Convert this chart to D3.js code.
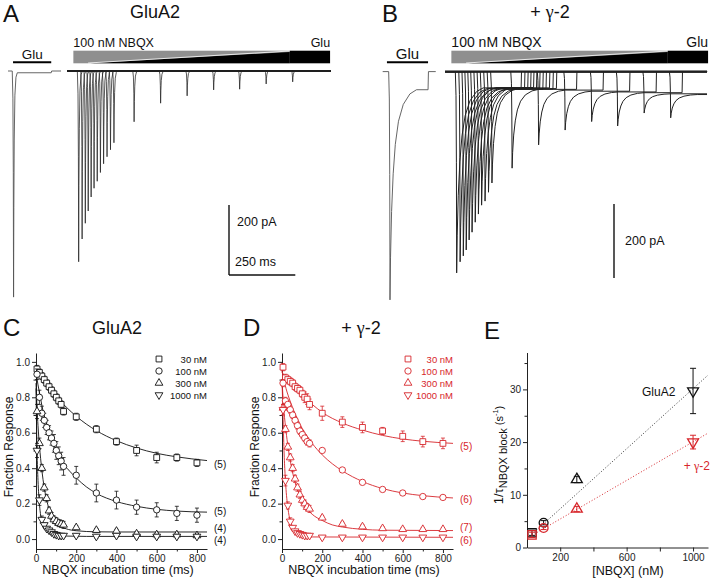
<!DOCTYPE html>
<html>
<head>
<meta charset="utf-8">
<script src="https://cdn.jsdelivr.net/npm/d3@7"></script>
<style>
body { margin: 0; background: #fff; }
svg { display: block; font-family: "Liberation Sans", Arial, sans-serif; }
</style>
</head>
<body>
<svg id="fig" width="711" height="580"></svg>
<script>
// ---------------- data ----------------
// A / B : sweep onsets (ms after trace start) and peak inward current (pA)
const onsets = [44, 57, 69, 80, 91, 102, 114, 126, 138, 151, 164, 177, 253, 353, 453, 553, 651, 751, 851]
const peaksA = [545, 480, 435, 400, 360, 335, 315, 290, 265, 245, 225, 205, 145, 92, 71, 54, 52, 37, 31]
const peaksB = [544, 514, 498, 482, 455, 434, 407, 385, 361, 350, 326, 301, 261, 198, 158, 135, 147, 112, 125]
const steadyB = [44, 46, 45, 47, 43, 46, 45, 48, 46, 44, 47, 46, 48, 50, 53, 55, 57, 60, 62]
// control glutamate responses (onset ms, peak pA, steady pA, glu off ms)
const ctrlA = [21, 646, 5, 163]
const ctrlB = [27.5, 617, 49, 171]
const gluDur = 243
// waveform templates [ms from peak, fraction of peak]
const riseShape = [[-5, 0], [-2.5, 0.12], [-1, 0.45], [0, 1]]
const decayA = [[1, 0.6], [2.5, 0.3], [5, 0.1], [9, 0.02], [14, 0]]
const decayB = [[2, 0.8], [6, 0.58], [12, 0.4], [20, 0.26], [32, 0.15], [50, 0.07], [75, 0.02], [100, 0]]
// NBQX wedge: start, ramp start, full glu, end (ms)
const wedgeT = [24, 87, 840, 992]

// C / D : fraction response vs NBQX incubation time
const concLabels = ['30 nM', '100 nM', '300 nM', '1000 nM']
const tInc = [5, 17, 29, 41, 53, 65, 77, 89, 101, 113, 125, 137, 200, 300, 400, 500, 600, 700, 800]
const c30 = [0.96, 0.94, 0.92, 0.90, 0.88, 0.86, 0.84, 0.82, 0.80, 0.78, 0.76, 0.72, 0.69, 0.62, 0.55, 0.50, 0.46, 0.46, 0.43]
const c100 = [0.93, 0.80, 0.71, 0.67, 0.63, 0.60, 0.57, 0.54, 0.50, 0.47, 0.44, 0.41, 0.36, 0.26, 0.22, 0.18, 0.165, 0.145, 0.135]
const c300 = [0.72, 0.54, 0.40, 0.29, 0.23, 0.16, 0.13, 0.11, 0.10, 0.09, 0.085, 0.08, 0.065, 0.05, 0.045, 0.03, 0.025, 0.025, 0.02]
const c1000 = [0.50, 0.22, 0.11, 0.08, 0.06, 0.05, 0.04, 0.03, 0.025, 0.02, 0.02, 0.02, 0.02, 0.015, 0.02, 0.015, 0.015, 0.015, 0.015]
const c30e = [0.02, 0.02, 0.02, 0.02, 0.02, 0.02, 0.02, 0.02, 0.02, 0.02, 0.02, 0.02, 0.02, 0.02, 0.02, 0.03, 0.03, 0.02, 0.02]
const c100e = [0.03, 0.04, 0.04, 0.04, 0.04, 0.04, 0.04, 0.05, 0.05, 0.05, 0.05, 0.05, 0.05, 0.05, 0.05, 0.04, 0.04, 0.04, 0.04]
const c300e = [0.04, 0.03, 0.02, 0.02, 0.02, 0.02, 0.02, 0.02, 0.02, 0.02, 0.02, 0.02, 0.01, 0.01, 0.01, 0.01, 0.01, 0.01, 0.01]
const c1000e = [0.04, 0.03, 0.02, 0.01, 0.01, 0.01, 0.01, 0.01, 0.01, 0.01, 0.01, 0.01, 0.01, 0.01, 0.01, 0.01, 0.01, 0.01, 0.01]
const d30 = [0.97, 0.91, 0.90, 0.89, 0.88, 0.86, 0.85, 0.84, 0.82, 0.80, 0.79, 0.76, 0.71, 0.66, 0.63, 0.61, 0.58, 0.55, 0.54]
const d100 = [0.88, 0.78, 0.76, 0.73, 0.70, 0.67, 0.64, 0.61, 0.59, 0.57, 0.55, 0.54, 0.50, 0.39, 0.32, 0.28, 0.26, 0.24, 0.235]
const d300 = [0.74, 0.62, 0.52, 0.46, 0.40, 0.34, 0.29, 0.25, 0.22, 0.20, 0.18, 0.17, 0.12, 0.085, 0.07, 0.06, 0.055, 0.055, 0.055]
const d1000 = [0.73, 0.33, 0.19, 0.10, 0.065, 0.045, 0.035, 0.03, 0.025, 0.02, 0.02, 0.02, 0.01, 0.01, 0.01, 0.01, 0.01, 0.01, 0.01]
const d30e = [0.02, 0.02, 0.02, 0.02, 0.02, 0.02, 0.02, 0.02, 0.02, 0.03, 0.03, 0.03, 0.04, 0.03, 0.03, 0.02, 0.03, 0.03, 0.03]
const d100e = [0.02, 0.02, 0.02, 0.02, 0.02, 0.02, 0.02, 0.02, 0.02, 0.02, 0.02, 0.02, 0.01, 0.01, 0.01, 0.01, 0.01, 0.01, 0.01]
const d300e = [0.02, 0.02, 0.02, 0.02, 0.02, 0.02, 0.02, 0.02, 0.02, 0.02, 0.02, 0.02, 0.01, 0.01, 0.01, 0.01, 0.01, 0.01, 0.01]
const d1000e = [0.03, 0.03, 0.02, 0.02, 0.01, 0.01, 0.01, 0.01, 0.01, 0.01, 0.01, 0.01, 0.01, 0.01, 0.01, 0.01, 0.01, 0.01, 0.01]
// exponential fit curves [ms, fraction]
const fitC30 = [[0, 0.96], [50, 0.877], [100, 0.805], [150, 0.745], [200, 0.693], [250, 0.649], [300, 0.612], [400, 0.555], [500, 0.514], [600, 0.484], [700, 0.464], [850, 0.443]]
const fitC100 = [[0, 0.94], [10, 0.87], [20, 0.81], [30, 0.75], [40, 0.70], [55, 0.64], [70, 0.59], [85, 0.54], [100, 0.50], [120, 0.455], [140, 0.42], [170, 0.38], [200, 0.345], [250, 0.295], [300, 0.258], [400, 0.212], [500, 0.185], [600, 0.168], [700, 0.158], [850, 0.152]]
const fitC300 = [[0, 0.88], [5, 0.74], [10, 0.64], [17, 0.53], [29, 0.39], [41, 0.29], [53, 0.22], [65, 0.17], [80, 0.13], [100, 0.095], [125, 0.07], [150, 0.058], [200, 0.047], [300, 0.041], [400, 0.04], [850, 0.04]]
const fitC1000 = [[0, 0.85], [5, 0.50], [10, 0.33], [17, 0.20], [25, 0.12], [35, 0.075], [50, 0.045], [70, 0.03], [100, 0.022], [150, 0.017], [250, 0.015], [850, 0.015]]
const fitD30 = [[0, 0.94], [50, 0.87], [100, 0.81], [150, 0.76], [200, 0.715], [300, 0.655], [400, 0.615], [500, 0.585], [600, 0.565], [700, 0.552], [850, 0.54]]
const fitD100 = [[0, 0.95], [20, 0.85], [40, 0.78], [60, 0.72], [80, 0.67], [100, 0.625], [125, 0.58], [150, 0.54], [200, 0.475], [250, 0.425], [300, 0.385], [400, 0.325], [500, 0.285], [600, 0.26], [700, 0.245], [850, 0.232]]
const fitD300 = [[0, 0.90], [5, 0.80], [10, 0.72], [20, 0.61], [30, 0.52], [40, 0.45], [50, 0.39], [60, 0.34], [80, 0.27], [100, 0.215], [125, 0.17], [150, 0.14], [200, 0.105], [250, 0.08], [300, 0.068], [400, 0.055], [500, 0.05], [850, 0.048]]
const fitD1000 = [[0, 0.90], [5, 0.70], [10, 0.50], [15, 0.37], [20, 0.28], [30, 0.17], [40, 0.105], [50, 0.068], [60, 0.045], [80, 0.025], [100, 0.017], [150, 0.012], [850, 0.01]]
const nCells = { C: ['(5)', '(5)', '(4)', '(4)'], D: ['(5)', '(6)', '(7)', '(6)'] }

// E : 1/tau vs [NBQX]
const concE = [30, 100, 300, 1000]
const rateGluA2 = [2.8, 4.7, 12.9, 29.7]
const rateGluA2e = [0.5, 0.4, 0.6, 4.3]
const rateG2 = [2.4, 3.7, 7.3, 20.0]
const rateG2e = [0.5, 0.3, 0.5, 1.3]
const lineGluA2 = [[30, 2.5], [1090, 32.7]]
const lineG2 = [[30, 2.3], [1090, 21.7]]

const RED = '#d7262b'
const symbols = ['square', 'circle', 'up', 'down']

// ---------------- drawing ----------------
var svg = d3.select('#fig')

function label(x, y, s, size, opt) {
    opt = opt || {}
    return svg.append('text')
        .attr('x', x).attr('y', y)
        .attr('font-size', size)
        .attr('text-anchor', opt.anchor || 'start')
        .attr('fill', opt.fill || '#111')
        .text(s)
}
function gammaLabel(x, y, size, fill, anchor) {
    var t = svg.append('text').attr('x', x).attr('y', y).attr('font-size', size)
        .attr('text-anchor', anchor || 'middle').attr('fill', fill || '#111')
    t.append('tspan').text('+ ')
    t.append('tspan').attr('font-family', 'Liberation Serif, serif').text('\u03b3')
    t.append('tspan').text('-2')
    return t
}

// panel letters and titles
label(3, 22, 'A', 24)
label(155, 18, 'GluA2', 18, { anchor: 'middle' })
label(382, 22, 'B', 24)
gammaLabel(550, 18, 18)
label(3, 336, 'C', 24)
label(117, 334, 'GluA2', 18, { anchor: 'middle' })
label(243, 336, 'D', 24)
gammaLabel(361, 334, 18)
label(484, 339, 'E', 24)

// ---- traces ----
function sweep(t0, peak, ss, decay, tOff, tEnd) {
    var pts = [[0, 0]]
    riseShape.forEach(function (d) { pts.push([t0 + d[0], d[1] * peak]) })
    decay.forEach(function (d) { pts.push([t0 + d[0], ss + d[1] * (peak - ss)]) })
    if (tOff < tEnd) {
        pts.push([tOff, ss], [tOff + 1.5, 0], [tEnd, 0])
    } else {
        pts.push([tEnd, ss])
    }
    return pts
}

function tracePanel(cfg) {
    var x = d3.scaleLinear().domain([0, 1000]).range([cfg.x0, cfg.x0 + 265.2])
    var y = d3.scaleLinear().domain([0, 700]).range([cfg.base, cfg.base + 700 * cfg.pxPerPA])
    var xc = d3.scaleLinear().domain([0, 200]).range([cfg.cx0, cfg.cx0 + 53.04])
    var g = svg.append('g')
    var line = d3.line().x(function (d) { return x(d[0]) }).y(function (d) { return y(d[1]) })
    var lineC = d3.line().x(function (d) { return xc(d[0]) }).y(function (d) { return y(d[1]) })

    // NBQX wedge
    var wt = wedgeT, top = 50.7, bot = 63.3
    g.append('rect').attr('x', x(wt[0])).attr('y', top).attr('width', x(wt[2]) - x(wt[0])).attr('height', bot - top).attr('fill', '#8f8f8f')
    g.append('path').attr('d', `M${x(wt[1])},${bot}L${x(wt[2])},${top + 1.2}L${x(wt[2])},${bot}Z`).attr('fill', '#000')
    g.append('line').attr('x1', x(wt[1]) - 2).attr('y1', bot - 0.3).attr('x2', x(wt[2])).attr('y2', top + 0.3)
        .attr('stroke', '#fff').attr('stroke-width', 0.8)
    g.append('rect').attr('x', x(wt[2])).attr('y', top).attr('width', x(wt[3]) - x(wt[2])).attr('height', bot - top).attr('fill', '#000')
    g.append('text').attr('x', x(wt[0])).attr('y', 47).attr('font-size', cfg.fs).attr('fill', '#111').text('100 nM NBQX')
    g.append('text').attr('x', x(wt[3])).attr('y', 47).attr('font-size', cfg.fs).attr('text-anchor', 'end').attr('fill', '#111').text('Glu')

    // control glu bar
    var cc = cfg.ctrl
    g.append('line').attr('x1', xc(cfg.gluBar[0])).attr('x2', xc(cfg.gluBar[1])).attr('y1', 62.3).attr('y2', 62.3)
        .attr('stroke', '#000').attr('stroke-width', 2)
    g.append('text').attr('x', (xc(cfg.gluBar[0]) + xc(cfg.gluBar[1])) / 2).attr('y', 59).attr('text-anchor', 'middle')
        .attr('font-size', cfg.fs + 1).attr('fill', '#111').text('Glu')
    g.append('path').attr('d', lineC(sweep(cc[0], cc[1], cc[2], cfg.decay, cc[3], 200)))
        .attr('fill', 'none').attr('stroke', '#555').attr('stroke-width', 0.9)

    // overlapped baselines
    g.append('line').attr('x1', x(0)).attr('x2', x(cfg.tEnd)).attr('y1', y(0)).attr('y2', y(0))
        .attr('stroke', '#111').attr('stroke-width', 2)
    g.selectAll('path.sw')
        .data(onsets)
        .join('path')
        .attr('class', 'sw')
        .attr('d', function (t, i) {
            return line(sweep(t, cfg.peaks[i], cfg.steady ? cfg.steady[i] : 0, cfg.decay, t + gluDur, cfg.tEnd))
        })
        .attr('fill', 'none').attr('stroke', '#222').attr('stroke-width', cfg.sw)

    // scale bar
    var sb = cfg.bar
    g.append('line').attr('x1', sb[0]).attr('x2', sb[0]).attr('y1', sb[1]).attr('y2', sb[1] - (y(200) - y(0)))
        .attr('stroke', '#111').attr('stroke-width', 1.4)
    if (cfg.hbar) {
        g.append('line').attr('x1', sb[0]).attr('x2', sb[0] + x(250) - x(0)).attr('y1', sb[1]).attr('y2', sb[1])
            .attr('stroke', '#111').attr('stroke-width', 1.4)
        g.append('text').attr('x', sb[0] + 6).attr('y', sb[1] - 9).attr('font-size', 12.5).attr('fill', '#111').text('250 ms')
        g.append('text').attr('x', sb[0] + 8).attr('y', sb[1] - 49).attr('font-size', 12.5).attr('fill', '#111').text('200 pA')
    } else {
        g.append('text').attr('x', sb[0] + 11).attr('y', sb[1] - 33).attr('font-size', 12.5).attr('fill', '#111').text('200 pA')
    }
}

tracePanel({ x0: 67, cx0: 8, base: 71, pxPerPA: 0.35, peaks: peaksA, decay: decayA, tEnd: 995, sw: 0.75,
    ctrl: ctrlA, gluBar: [19, 163], bar: [229, 275], hbar: true, fs: 12.5 })
tracePanel({ x0: 445, cx0: 382.7, base: 71.6, pxPerPA: 0.37, peaks: peaksB, steady: steadyB, decay: decayB, tEnd: 988, sw: 1,
    ctrl: ctrlB, gluBar: [16, 171], bar: [614, 278], hbar: false, fs: 14 })

// ---- C / D ----
function markerPath(kind, size) {
    var t = { square: d3.symbolSquare, circle: d3.symbolCircle, up: d3.symbolTriangle, down: d3.symbolTriangle }[kind]
    return d3.symbol().type(t).size(size)()
}
function markerTransform(kind, x, y) {
    return `translate(${x},${y})` + (kind === 'down' ? ' rotate(180)' : '')
}
var msize = { square: 34, circle: 32, up: 26, down: 26 }

function decayPanel(cfg) {
    var x = d3.scaleLinear().domain([0, 850]).range([cfg.x0, cfg.x0 + 171])
    var y = d3.scaleLinear().domain([-0.056, 1.05]).range([549, 353])
    var g = svg.append('g').attr('color', '#111')
    var col = cfg.color

    g.append('g').attr('transform', 'translate(0,549)')
        .call(d3.axisBottom(x).tickValues([0, 200, 400, 600, 800]).tickSize(4).tickSizeOuter(0).tickPadding(2))
    g.append('g').attr('transform', 'translate(0,549)')
        .call(d3.axisBottom(x).tickValues([100, 300, 500, 700]).tickSize(2.5).tickFormat(''))
        .select('.domain').remove()
    g.append('g').attr('transform', `translate(${cfg.x0},0)`)
        .call(d3.axisLeft(y).tickValues([0, 0.2, 0.4, 0.6, 0.8, 1.0]).tickFormat(d3.format('.1f')).tickSize(4).tickSizeOuter(0).tickPadding(2))
    g.append('g').attr('transform', `translate(${cfg.x0},0)`)
        .call(d3.axisLeft(y).tickValues([0.1, 0.3, 0.5, 0.7, 0.9]).tickSize(2.5).tickFormat(''))
        .select('.domain').remove()
    g.selectAll('.tick text').attr('font-size', 10).attr('font-family', 'Liberation Sans, Arial, sans-serif').attr('fill', '#222')
    g.selectAll('.domain, .tick line').attr('stroke', '#222')

    label(cfg.x0 + 82, 574, 'NBQX incubation time (ms)', 12.5, { anchor: 'middle' })
    svg.append('text').attr('transform', `translate(${cfg.x0 - 23},447) rotate(-90)`)
        .attr('text-anchor', 'middle').attr('font-size', 12).attr('fill', '#111').text('Fraction Response')

    var line = d3.line().x(function (d) { return x(d[0]) }).y(function (d) { return y(d[1]) }).curve(d3.curveMonotoneX)
    g.selectAll('path.fit').data(cfg.fits).join('path').attr('class', 'fit')
        .attr('d', line).attr('fill', 'none').attr('stroke', col).attr('stroke-width', 0.9)

    cfg.series.forEach(function (vals, s) {
        var err = cfg.errs[s]
        var pts = tInc.map(function (t, i) { return { t: t, v: vals[i], e: err[i] } })
        var sg = g.append('g')
        sg.selectAll('path.eb').data(pts).join('path').attr('class', 'eb')
            .attr('d', function (d) {
                var xx = x(d.t), y1 = y(d.v + d.e), y2 = y(d.v - d.e)
                return `M${xx},${y1}V${y2}M${xx - 2},${y1}H${xx + 2}M${xx - 2},${y2}H${xx + 2}`
            })
            .attr('stroke', col).attr('stroke-width', 0.8).attr('fill', 'none')
        sg.selectAll('path.mk').data(pts).join('path').attr('class', 'mk')
            .attr('d', markerPath(symbols[s], msize[symbols[s]]))
            .attr('transform', function (d) { return markerTransform(symbols[s], x(d.t), y(d.v)) })
            .attr('fill', '#fff').attr('stroke', col).attr('stroke-width', 0.9)
    })

    // legend
    concLabels.forEach(function (c, i) {
        var yy = 359 + i * 12
        g.append('path').attr('d', markerPath(symbols[i], msize[symbols[i]]))
            .attr('transform', markerTransform(symbols[i], cfg.legX, yy))
            .attr('fill', '#fff').attr('stroke', col).attr('stroke-width', 0.9)
        label(cfg.x0 + 171, yy + 3.5, c, 9.5, { anchor: 'end', fill: col })
    })
    cfg.nLabels.forEach(function (n, i) {
        label(cfg.x0 + 178, cfg.nY[i] + 3.5, n, 10, { fill: col })
    })
}

decayPanel({ x0: 36, color: '#111', series: [c30, c100, c300, c1000], errs: [c30e, c100e, c300e, c1000e],
    fits: [fitC30, fitC100, fitC300, fitC1000], legX: 159, nLabels: nCells.C, nY: [464, 511.5, 528, 540] })
decayPanel({ x0: 282, color: RED, series: [d30, d100, d300, d1000], errs: [d30e, d100e, d300e, d1000e],
    fits: [fitD30, fitD100, fitD300, fitD1000], legX: 408, nLabels: nCells.D, nY: [446, 499, 527, 540.5] })

// ---- E ----
;(function () {
    var x = d3.scaleLinear().domain([0, 1090]).range([527, 708])
    var y = d3.scaleLinear().domain([0, 37]).range([547.5, 352.5])
    var g = svg.append('g').attr('color', '#111')
    g.append('g').attr('transform', 'translate(0,547.5)')
        .call(d3.axisBottom(x).tickValues([200, 400, 600, 800, 1000]).tickSize(4).tickSizeOuter(0).tickPadding(2)
            .tickFormat(function (d) { return d === 400 || d === 800 ? '' : d }))
    g.append('g').attr('transform', 'translate(527,0)')
        .call(d3.axisLeft(y).tickValues([0, 10, 20, 30]).tickSize(4).tickSizeOuter(0).tickPadding(2))
    g.append('g').attr('transform', 'translate(527,0)')
        .call(d3.axisLeft(y).tickValues([5, 15, 25, 35]).tickSize(2.5).tickFormat(''))
        .select('.domain').remove()
    g.selectAll('.tick text').attr('font-size', 10).attr('font-family', 'Liberation Sans, Arial, sans-serif').attr('fill', '#222')
    g.selectAll('.domain, .tick line').attr('stroke', '#222')

    label(628, 575, '[NBQX] (nM)', 12.5, { anchor: 'middle' })
    var yl = svg.append('text').attr('transform', 'translate(503,455) rotate(-90)')
        .attr('text-anchor', 'middle').attr('font-size', 13).attr('fill', '#111')
    yl.append('tspan').text('1/\u03c4')
    yl.append('tspan').attr('font-size', 11).attr('dy', 4).text('NBQX block')
    yl.append('tspan').attr('font-size', 11).attr('dy', -4).text(' (s')
    yl.append('tspan').attr('font-size', 7.5).attr('dy', -5).text('-1')
    yl.append('tspan').attr('font-size', 11).attr('dy', 5).text(')')

    var line = d3.line().x(function (d) { return x(d[0]) }).y(function (d) { return y(d[1]) })
    g.append('path').attr('d', line(lineGluA2)).attr('stroke', '#333').attr('stroke-width', 1)
        .attr('stroke-dasharray', '1,2').attr('fill', 'none')
    g.append('path').attr('d', line(lineG2)).attr('stroke', RED).attr('stroke-width', 1)
        .attr('stroke-dasharray', '1,2').attr('fill', 'none')

    var esize = { square: 70, circle: 62, up: 52, down: 52 }
    ;[[rateGluA2, rateGluA2e, '#111'], [rateG2, rateG2e, RED]].forEach(function (s) {
        var pts = concE.map(function (c, i) { return { c: c, v: s[0][i], e: s[1][i] } })
        g.selectAll(null).data(pts).join('path')
            .attr('d', function (d) {
                var xx = x(d.c), y1 = y(d.v + d.e), y2 = y(d.v - d.e)
                return `M${xx},${y1}V${y2}M${xx - 3},${y1}H${xx + 3}M${xx - 3},${y2}H${xx + 3}`
            })
            .attr('stroke', s[2]).attr('stroke-width', 1).attr('fill', 'none')
        g.selectAll(null).data(pts).join('path')
            .attr('d', function (d, i) { return markerPath(symbols[i], esize[symbols[i]]) })
            .attr('transform', function (d, i) { return markerTransform(symbols[i], x(d.c), y(d.v)) })
            .attr('fill', 'none').attr('stroke', s[2]).attr('stroke-width', 1.3)
    })
    label(642, 396, 'GluA2', 12)
    gammaLabel(710, 470, 12, RED, 'end')
})()
</script>
</body>
</html>
